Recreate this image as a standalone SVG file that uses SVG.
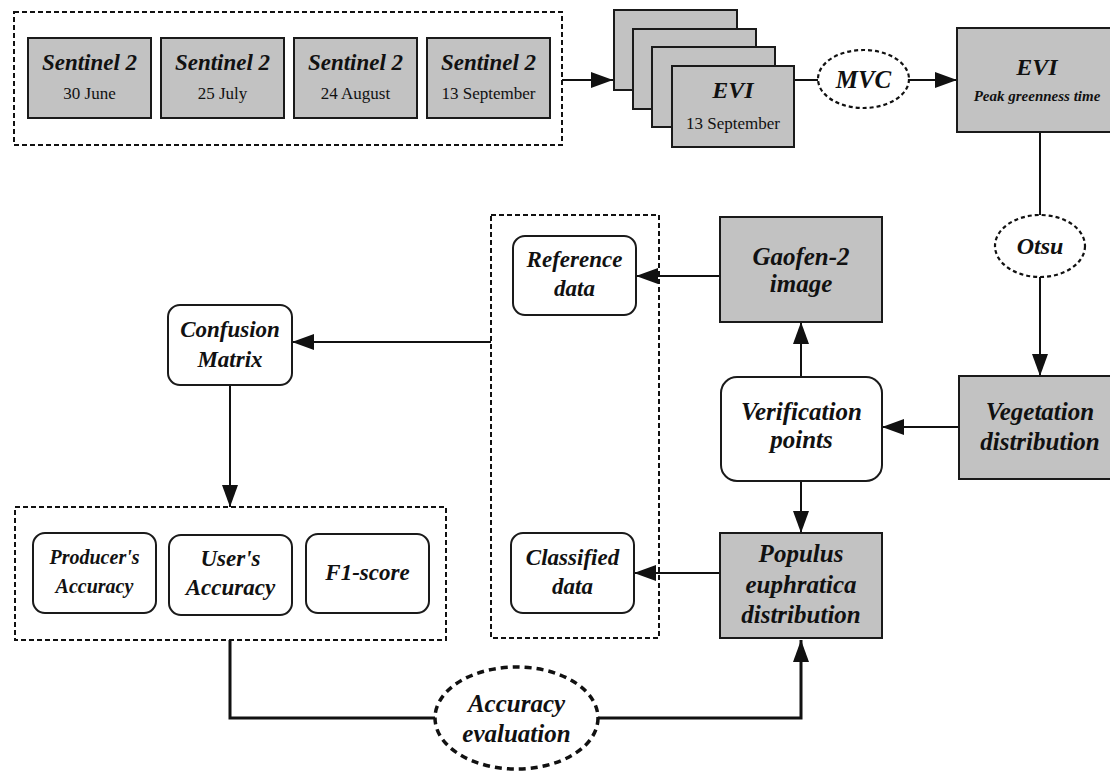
<svg xmlns="http://www.w3.org/2000/svg" width="1110" height="771" viewBox="0 0 1110 771">
<style>
  .grey { fill: #c2c2c2; stroke: #1a1a1a; stroke-width: 2; }
  .white { fill: #ffffff; stroke: #1a1a1a; stroke-width: 2; }
  .dash { fill: none; stroke: #111; stroke-width: 2; stroke-dasharray: 5 3; }
  .dell { fill: #ffffff; stroke: #111; stroke-width: 2.2; stroke-dasharray: 4 3; }
  .dell2 { fill: #ffffff; stroke: #111; stroke-width: 3.5; stroke-dasharray: 7 5; }
  .t { font-family: "Liberation Serif", "Times New Roman", serif; font-weight: bold; font-style: italic; fill: #111; text-anchor: middle; }
  .r { font-family: "Liberation Serif", "Times New Roman", serif; fill: #111; text-anchor: middle; font-size: 17px; }
  .ln { fill: none; stroke: #111; stroke-width: 2; }
  .lnb { fill: none; stroke: #111; stroke-width: 3; }
</style>
<defs>
  <marker id="ah" markerUnits="userSpaceOnUse" markerWidth="22" markerHeight="16" refX="22" refY="8" orient="auto">
    <path d="M0,0 L22,8 L0,16 z" fill="#111"/>
  </marker>
</defs>
<rect width="1110" height="771" fill="#ffffff"/>

<g id="connectors">
  <line class="ln" x1="562" y1="80" x2="613" y2="80" stroke-width="2.5" marker-end="url(#ah)"/>
  <line class="ln" x1="794" y1="80" x2="818" y2="80"/>
  <line class="ln" x1="909" y1="80" x2="957" y2="80" stroke-width="2.5" marker-end="url(#ah)"/>
  <line class="ln" x1="1040" y1="132" x2="1040" y2="215"/>
  <line class="ln" x1="1040" y1="277" x2="1040" y2="376" marker-end="url(#ah)"/>
  <line class="ln" x1="959" y1="427" x2="882" y2="427" marker-end="url(#ah)"/>
  <line class="ln" x1="801" y1="377" x2="801" y2="322" marker-end="url(#ah)"/>
  <line class="ln" x1="720" y1="276" x2="636" y2="276" marker-end="url(#ah)"/>
  <line class="ln" x1="801" y1="481" x2="801" y2="533" marker-end="url(#ah)"/>
  <line class="ln" x1="720" y1="573" x2="634" y2="573" marker-end="url(#ah)"/>
  <line class="ln" x1="491" y1="342" x2="292" y2="342" marker-end="url(#ah)"/>
  <line class="ln" x1="230" y1="385" x2="230" y2="507" marker-end="url(#ah)"/>
  <polyline class="lnb" points="230,640 230,718 435,718"/>
  <polyline class="lnb" points="598,718 801,718 801,640" marker-end="url(#ah)"/>
</g>

<g id="sentinel-group">
  <rect class="dash" x="14" y="12" width="548" height="133"/>
  <g id="sentinel-1">
    <rect class="grey" x="28" y="38" width="123" height="80"/>
    <text class="t" x="89.5" y="70" font-size="23">Sentinel 2</text>
    <text class="r" x="89.5" y="99">30 June</text>
  </g>
  <g id="sentinel-2">
    <rect class="grey" x="161" y="38" width="123" height="80"/>
    <text class="t" x="222.5" y="70" font-size="23">Sentinel 2</text>
    <text class="r" x="222.5" y="99">25 July</text>
  </g>
  <g id="sentinel-3">
    <rect class="grey" x="294" y="38" width="123" height="80"/>
    <text class="t" x="355.5" y="70" font-size="23">Sentinel 2</text>
    <text class="r" x="355.5" y="99">24 August</text>
  </g>
  <g id="sentinel-4">
    <rect class="grey" x="427" y="38" width="123" height="80"/>
    <text class="t" x="488.5" y="70" font-size="23">Sentinel 2</text>
    <text class="r" x="488.5" y="99">13 September</text>
  </g>
</g>

<g id="evi-stack">
  <rect class="grey" x="614" y="10" width="123" height="80"/>
  <rect class="grey" x="633" y="29" width="123" height="80"/>
  <rect class="grey" x="652" y="47" width="123" height="80"/>
  <rect class="grey" x="672" y="66" width="122" height="81"/>
  <text class="t" x="733" y="98" font-size="24">EVI</text>
  <text class="r" x="733" y="129">13 September</text>
</g>

<g id="mvc">
  <ellipse class="dell" cx="863.5" cy="79" rx="45.5" ry="29"/>
  <text class="t" x="863.5" y="88" font-size="25">MVC</text>
</g>

<g id="evi-peak">
  <rect class="grey" x="957" y="28" width="165" height="104"/>
  <text class="t" x="1037" y="75" font-size="24">EVI</text>
  <text class="t" x="1037" y="101" font-size="15">Peak greenness time</text>
</g>

<g id="otsu">
  <ellipse class="dell" cx="1040" cy="246" rx="45" ry="31"/>
  <text class="t" x="1040" y="254" font-size="24">Otsu</text>
</g>

<g id="vegetation">
  <rect class="grey" x="959" y="376" width="165" height="103"/>
  <text class="t" x="1040" y="420" font-size="25">Vegetation</text>
  <text class="t" x="1040" y="450" font-size="25">distribution</text>
</g>

<g id="verification">
  <rect class="white" x="721" y="377" width="161" height="104" rx="16"/>
  <text class="t" x="801.5" y="420" font-size="25">Verification</text>
  <text class="t" x="801.5" y="448" font-size="25">points</text>
</g>

<g id="gaofen">
  <rect class="grey" x="720" y="217" width="162" height="105"/>
  <text class="t" x="801" y="265" font-size="25">Gaofen-2</text>
  <text class="t" x="801" y="292" font-size="25">image</text>
</g>

<g id="data-group">
  <rect class="dash" x="491" y="215" width="168" height="423"/>
  <g id="reference">
    <rect class="white" x="513" y="236" width="123" height="79" rx="12"/>
    <text class="t" x="574.5" y="267" font-size="23">Reference</text>
    <text class="t" x="574.5" y="296" font-size="23">data</text>
  </g>
  <g id="classified">
    <rect class="white" x="511" y="533" width="123" height="80" rx="12"/>
    <text class="t" x="572.5" y="565" font-size="23">Classified</text>
    <text class="t" x="572.5" y="594" font-size="23">data</text>
  </g>
</g>

<g id="populus">
  <rect class="grey" x="720" y="533" width="162" height="105"/>
  <text class="t" x="801" y="562" font-size="25">Populus</text>
  <text class="t" x="801" y="593" font-size="25">euphratica</text>
  <text class="t" x="801" y="623" font-size="25">distribution</text>
</g>

<g id="confusion">
  <rect class="white" x="168" y="305" width="124" height="80" rx="12"/>
  <text class="t" x="230" y="337" font-size="23">Confusion</text>
  <text class="t" x="230" y="367" font-size="23">Matrix</text>
</g>

<g id="metrics-group">
  <rect class="dash" x="15" y="507" width="431" height="133"/>
  <g id="producer">
    <rect class="white" x="33" y="533" width="123" height="80" rx="12"/>
    <text class="t" x="94.5" y="564" font-size="20">Producer's</text>
    <text class="t" x="94.5" y="593" font-size="20">Accuracy</text>
  </g>
  <g id="user">
    <rect class="white" x="169" y="535" width="123" height="80" rx="12"/>
    <text class="t" x="230.5" y="566" font-size="23">User's</text>
    <text class="t" x="230.5" y="595" font-size="23">Accuracy</text>
  </g>
  <g id="f1">
    <rect class="white" x="306" y="534" width="123" height="79" rx="12"/>
    <text class="t" x="367.5" y="580" font-size="23">F1-score</text>
  </g>
</g>

<g id="accuracy-evaluation">
  <ellipse class="dell2" cx="516.5" cy="718" rx="81.5" ry="51"/>
  <text class="t" x="516.5" y="712" font-size="25">Accuracy</text>
  <text class="t" x="516.5" y="742" font-size="25">evaluation</text>
</g>
</svg>
